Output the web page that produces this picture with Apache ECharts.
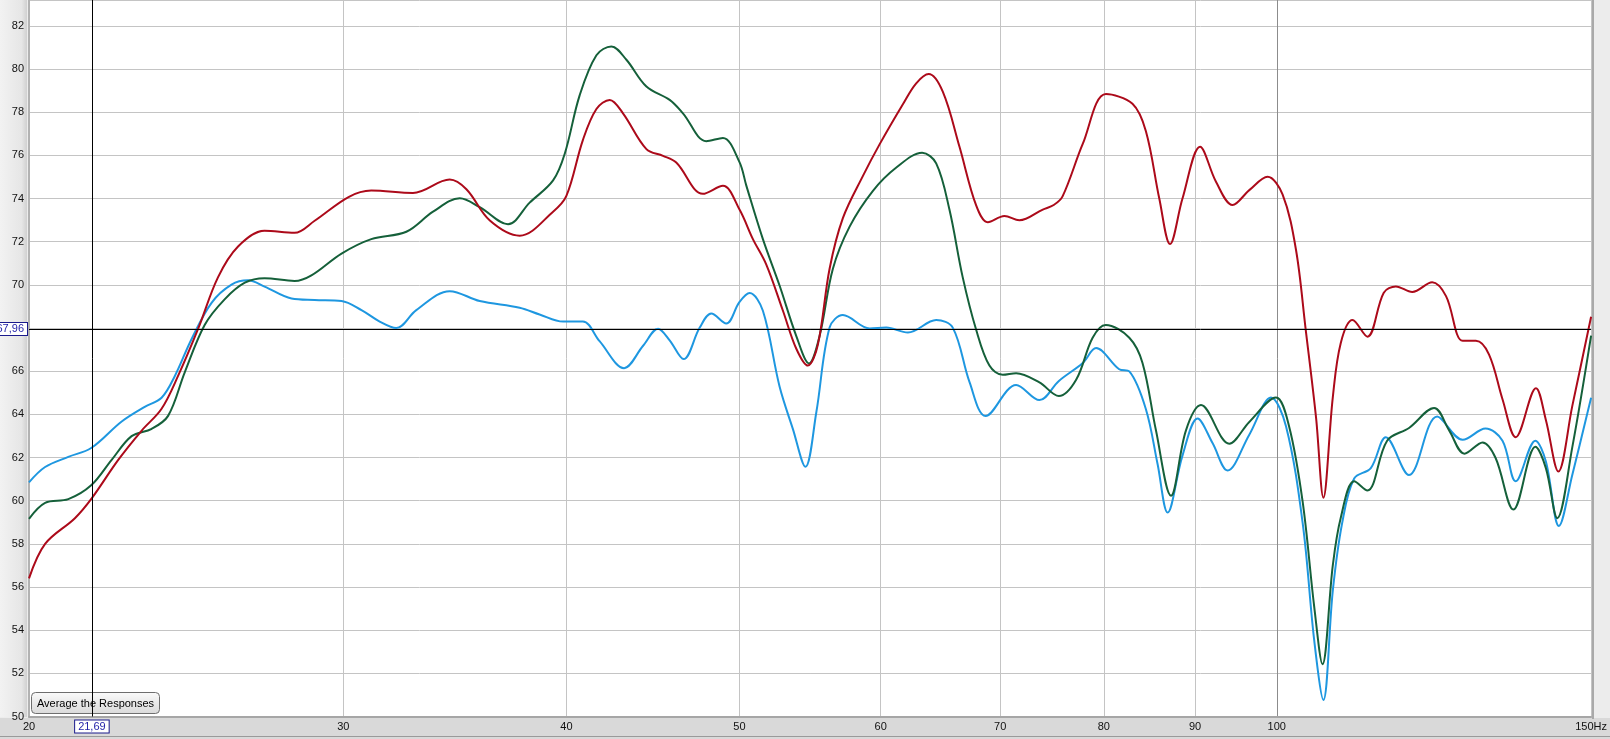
<!DOCTYPE html>
<html><head><meta charset="utf-8">
<script src="https://cdn.jsdelivr.net/npm/echarts@6/dist/echarts.min.js"></script>
<style>html,body{margin:0;padding:0;background:#ececec;overflow:hidden}#c{width:1610px;height:739px}</style>
</head><body><div id="c"></div>
<script>
// ---- data (frequency in Hz, level in dB) ----
const xTickLabels = [20, 30, 40, 50, 60, 70, 80, 90, 100, 150];
const yMin = 50, yMax = 83.2, yStep = 2;
const cursorFreq = 21.69, cursorDb = 67.96;
const buttonText = 'Average the Responses';

const redFreq = [20.0,20.42,21.22,21.69,22.44,23.13,23.73,24.24,24.88,25.52,26.19,27.10,28.17,28.91,30.2,31.1,32.82,34.41,35.16,36.24,37.66,39.32,40.0,40.86,41.58,42.30,43.03,44.35,45.31,46.09,47.70,48.95,50.0,50.88,51.76,52.89,53.81,54.62,55.33,56.17,57.14,58.64,59.91,61.74,62.81,63.83,65.0,66.41,67.86,68.89,70.38,71.75,73.95,75.0,75.86,77.86,80.23,83.02,84.47,85.94,87.14,88.55,90.58,92.46,94.46,96.52,98.82,100.75,102.5,103.8,105.2,106.2,107.5,108.6,110.26,112.4,114.8,116.6,119.1,122.2,124.4,127.1,129.3,131.5,133.8,136.1,139.7,141.5,143.8,146.4,150.0];
const redDb = [56.40,58.0,59.19,60.12,61.89,63.25,64.26,65.78,67.98,70.35,71.78,72.51,72.41,72.97,74.07,74.37,74.26,74.88,74.43,72.98,72.28,73.39,74.12,76.71,78.15,78.57,77.95,76.29,75.98,75.67,74.22,74.59,73.5,72.12,70.95,68.80,67.04,66.26,67.24,70.75,73.09,75.05,76.51,78.37,79.34,79.77,78.95,76.41,73.68,72.90,73.19,72.99,73.49,73.7,74.1,76.53,78.84,78.39,77.12,74.0,71.89,74.0,76.40,74.78,73.70,74.39,75.01,74.19,71.65,67.94,63.85,60.14,64.8,67.3,68.37,67.60,69.64,69.93,69.67,70.12,69.48,67.41,67.41,66.77,64.70,62.94,65.21,63.74,61.35,64.38,68.52];

const greenFreq = [20.0,20.42,21.04,21.67,22.25,22.83,23.43,23.93,24.45,25.09,25.74,26.42,27.10,28.17,28.79,29.93,31.1,32.54,33.68,34.86,35.77,37.10,38.15,39.32,39.92,40.69,41.58,42.39,43.22,44.35,45.70,46.49,47.91,48.95,50.0,50.45,51.54,52.66,53.81,54.70,55.45,56.41,57.64,59.40,61.22,63.29,64.45,65.56,66.69,67.86,69.03,70.23,71.45,73.63,75.5,77.2,78.86,80.2,82.68,84.10,85.57,87.25,88.95,90.69,94.06,96.52,99.9,101.6,103.4,104.96,106.08,107.5,108.6,110.5,112.4,115.3,118.6,122.5,124.9,127.4,130.4,132.6,135.7,139.6,141.5,143.6,146.4,150.0];
const greenDb = [59.16,59.90,60.07,60.71,61.89,62.99,63.33,63.93,65.95,68.15,69.33,70.10,70.31,70.18,70.44,71.45,72.12,72.46,73.39,74.01,73.60,72.81,73.81,74.84,76.09,78.78,80.64,81.05,80.43,79.19,78.57,77.95,76.66,76.81,75.7,74.6,72.12,69.97,67.63,66.36,67.63,70.75,72.70,74.36,75.44,76.12,75.63,73.49,70.36,67.92,66.26,65.83,65.91,65.48,64.85,65.60,67.55,68.14,67.55,66.38,63.26,60.23,63.26,64.43,62.64,63.65,64.78,63.45,59.94,55.06,52.42,57.01,59.2,60.9,60.47,62.78,63.37,64.30,63.26,62.18,62.70,61.99,59.59,62.50,61.51,59.19,62.47,67.65];

const blueFreq = [20.0,20.42,21.04,21.67,22.54,23.22,23.73,24.14,24.66,25.31,25.97,26.53,27.10,28.06,28.91,29.93,30.71,31.44,32.12,32.96,34.41,35.77,37.66,38.64,39.83,40.86,41.75,43.09,44.16,45.02,45.70,46.53,47.50,48.22,49.16,50.0,50.67,51.54,52.66,53.57,54.45,55.22,56.17,57.14,59.15,60.43,62.14,64.45,65.84,67.29,68.69,71.45,73.63,75.5,77.86,79.21,81.61,82.68,84.47,85.75,86.87,88.55,90.29,92.05,93.85,96.52,99.26,101.2,103.4,104.96,106.2,107.5,108.8,110.5,112.9,115.1,118.6,123.0,127.1,130.9,133.8,136.1,139.6,141.5,143.9,146.4,150.0];
const blueDb = [60.85,61.56,62.03,62.44,63.67,64.35,64.77,65.78,67.47,69.17,70.01,70.21,69.92,69.37,69.30,69.25,68.83,68.3,68.0,68.83,69.71,69.25,68.94,68.63,68.30,68.30,67.39,66.14,67.18,67.97,67.43,66.56,68.01,68.67,68.21,69.2,69.62,68.80,65.29,63.33,61.57,64.11,68.02,68.60,67.98,68.02,67.79,68.37,68.02,65.48,63.92,65.36,64.66,65.55,66.38,67.07,66.09,65.99,64.24,61.70,59.45,62.09,63.81,62.67,61.40,63.06,64.78,63.45,58.96,53.50,50.77,55.84,58.96,61.03,61.51,62.94,61.19,63.90,62.82,63.34,62.78,60.90,62.78,61.82,58.83,61.19,64.77];

// ---- build ----
const lg = v => Math.log10(v);
const pts = (fs, ds) => fs.map((f, i) => [lg(f), ds[i]]);
const xTickVals = xTickLabels.map(lg);
const splitColors = xTickLabels.map(v => v === 100 ? '#8c8c8c' : '#c4c4c4');
const fmtComma = v => v.toFixed(2).replace('.', ',');

const chart = echarts.init(document.getElementById('c'), null, {renderer: 'canvas'});
const lineSeries = (name, fs, ds, color, extra) => Object.assign({
  name, type: 'line', data: pts(fs, ds), showSymbol: false, smooth: 0.35,
  lineStyle: {color, width: 2}, itemStyle: {color}, silent: true, animation: false
}, extra || {});

const cursorLabel = {
  show: true, position: 'start', distance: 4,
  backgroundColor: '#ffffff', borderColor: '#1a1a8c', borderWidth: 1,
  padding: [1, 3, 0, 3], color: '#1f1fa8', fontSize: 11,
  fontFamily: 'Liberation Sans, Arial, sans-serif'
};

chart.setOption({
  backgroundColor: '#ececec',
  animation: false,
  grid: {left: 29, right: 18, top: 0, bottom: 22.5, show: true, backgroundColor: '#ffffff', borderWidth: 0},
  xAxis: {
    type: 'value', min: lg(20), max: lg(150),
    axisLine: {show: true, lineStyle: {color: '#a6a6a6', width: 2}},
    axisTick: {show: false, customValues: xTickVals},
    axisLabel: {
      customValues: xTickVals, margin: 5, fontSize: 11, color: '#111',
      fontFamily: 'Liberation Sans Narrow, Liberation Sans, Arial, sans-serif',
      formatter: v => { const f = Math.round(Math.pow(10, v)); return f === 150 ? '150Hz' : String(f); }
    },
    splitLine: {show: true, lineStyle: {color: splitColors, width: 1}}
  },
  yAxis: {
    type: 'value', min: yMin, max: yMax, interval: yStep,
    axisLine: {show: true, lineStyle: {color: '#b2b2b2', width: 2}},
    axisTick: {show: false},
    axisLabel: {margin: 5, fontSize: 11, color: '#111', showMaxLabel: false,
      fontFamily: 'Liberation Sans, Arial, sans-serif'},
    splitLine: {show: true, lineStyle: {color: '#c4c4c4', width: 1}}
  },
  graphic: [
    {type: 'rect', z: -5, shape: {x: 0, y: 718, width: 1610, height: 21}, style: {fill: '#d9d9d9'}},
    {type: 'rect', z: -5, shape: {x: 0, y: 736, width: 1610, height: 1}, style: {fill: '#9a9a9a'}},
    {type: 'rect', z: -5, shape: {x: 0, y: 0, width: 27, height: 717}, style: {fill: new echarts.graphic.LinearGradient(0, 0, 1, 0, [{offset: 0, color: '#f2f2f2'}, {offset: 0.8, color: '#e6e6e6'}, {offset: 1, color: '#d0d0d0'}])}},
    {type: 'rect', z: 5, shape: {x: 1592, y: 0, width: 2, height: 719}, style: {fill: '#a9a9a9'}},
    {type: 'rect', z: -5, shape: {x: 1594, y: 0, width: 16, height: 718}, style: {fill: '#ececec'}},
    {
      type: 'group', x: 31, y: 692, z: 50, children: [
        {type: 'rect', shape: {x: 0.5, y: 0.5, width: 128, height: 21, r: 4},
          style: {fill: new echarts.graphic.LinearGradient(0, 0, 0, 1, [{offset: 0, color: '#fbfbfb'}, {offset: 1, color: '#d9d9d9'}]), stroke: '#6e6e6e', lineWidth: 1}},
        {type: 'text', x: 64.5, y: 11.5, style: {text: buttonText, fill: '#000', font: '11px "Liberation Sans", Arial, sans-serif', align: 'center', verticalAlign: 'middle'}}
      ]
    }
  ],
  series: [
    lineSeries('blue', blueFreq, blueDb, '#1e97e0', {
      markLine: {
        silent: true, symbol: 'none', animation: false, precision: 8,
        lineStyle: {color: '#000', width: 1, type: 'solid'},
        data: [
          {xAxis: lg(cursorFreq), label: Object.assign({}, cursorLabel, {formatter: fmtComma(cursorFreq)})},
          {yAxis: cursorDb, label: Object.assign({}, cursorLabel, {formatter: fmtComma(cursorDb), distance: 2})}
        ]
      }
    }),
    lineSeries('green', greenFreq, greenDb, '#15603a'),
    lineSeries('red', redFreq, redDb, '#ac0a1a')
  ]
});
</script>
</body></html>
